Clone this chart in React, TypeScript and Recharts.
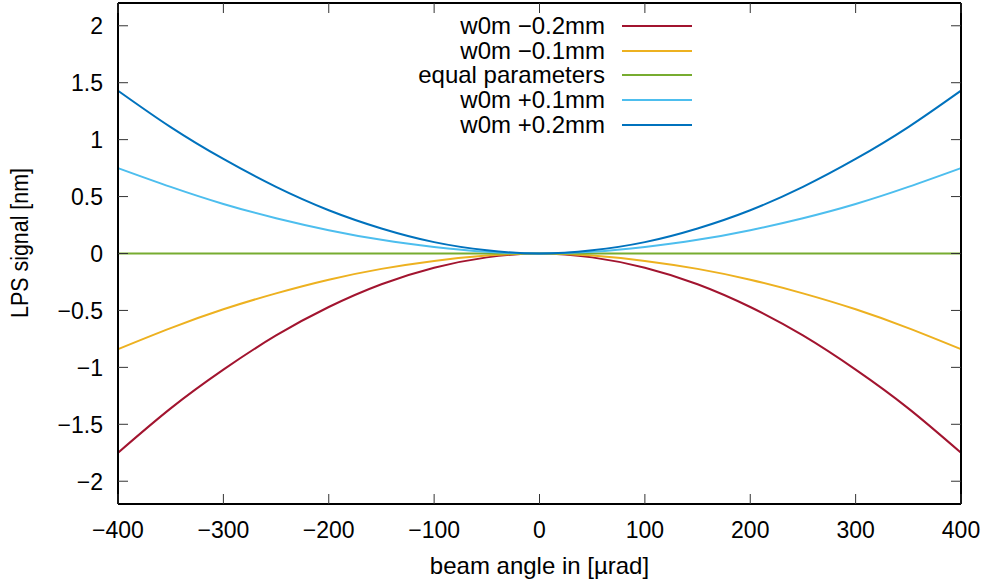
import {
  LineChart,
  Line,
  XAxis,
  YAxis,
  Legend,
  ReferenceLine,
} from "recharts";

// beam angle in µrad
const angles = [
  -400, -350, -300, -250, -200, -150, -100, -50, 0, 50, 100, 150, 200, 250,
  300, 350, 400,
];

// LPS signal in nm
const w0mMinus02 = [
  -1.75, -1.36, -1.02, -0.72, -0.47, -0.27, -0.125, -0.034, 0, -0.034, -0.125,
  -0.27, -0.47, -0.72, -1.02, -1.36, -1.75,
];
const w0mMinus01 = [
  -0.84, -0.655, -0.49, -0.35, -0.23, -0.135, -0.065, -0.018, 0, -0.018,
  -0.065, -0.135, -0.23, -0.35, -0.49, -0.655, -0.84,
];
const equalParams = [0, 0, 0, 0, 0, 0, 0, 0, 0, 0, 0, 0, 0, 0, 0, 0, 0];
const w0mPlus01 = [
  0.75, 0.585, 0.435, 0.31, 0.205, 0.12, 0.058, 0.016, 0, 0.016, 0.058, 0.12,
  0.205, 0.31, 0.435, 0.585, 0.75,
];
const w0mPlus02 = [
  1.43, 1.11, 0.83, 0.585, 0.38, 0.22, 0.1, 0.028, 0, 0.028, 0.1, 0.22, 0.38,
  0.585, 0.83, 1.11, 1.43,
];

const seriesNames = [
  "w0m −0.2mm",
  "w0m −0.1mm",
  "equal parameters",
  "w0m +0.1mm",
  "w0m +0.2mm",
];
const seriesColors = ["#A2142F", "#EDB120", "#77AC30", "#4DBEEE", "#0072BD"];
const seriesKeys = ["m02", "m01", "eq", "p01", "p02"];

const xTicks = [-400, -300, -200, -100, 0, 100, 200, 300, 400];
const yTicks = [-2, -1.5, -1, -0.5, 0, 0.5, 1, 1.5, 2];

const data = angles.map((a, i) => ({
  angle: a,
  m02: w0mMinus02[i],
  m01: w0mMinus01[i],
  eq: equalParams[i],
  p01: w0mPlus01[i],
  p02: w0mPlus02[i],
}));

const FONT = '"Liberation Sans", Arial, Helvetica, sans-serif';
const PLOT = { left: 118, right: 961, top: 3, bottom: 504 };
const TICK_LEN = 10;

const fmt = (v: number) => (v < 0 ? "\u2212" + Math.abs(v) : String(v));

function XTick(props: any) {
  const { x, payload } = props;
  return (
    <g>
      <line x1={x} x2={x} y1={PLOT.bottom} y2={PLOT.bottom - TICK_LEN} stroke="#333" />
      <line x1={x} x2={x} y1={PLOT.top} y2={PLOT.top + TICK_LEN} stroke="#333" />
      <text x={x} y={538} textAnchor="middle" fontSize={23} fontFamily={FONT} fill="#000">
        {fmt(payload.value)}
      </text>
    </g>
  );
}

function YTick(props: any) {
  const { y, payload } = props;
  return (
    <g>
      <line x1={PLOT.left} x2={PLOT.left + TICK_LEN} y1={y} y2={y} stroke="#333" />
      <line x1={PLOT.right} x2={PLOT.right - TICK_LEN} y1={y} y2={y} stroke="#333" />
      <text x={103} y={y} dy="0.36em" textAnchor="end" fontSize={23} fontFamily={FONT} fill="#000">
        {fmt(payload.value)}
      </text>
    </g>
  );
}

function renderLegend(props: any) {
  const items = [...(props.payload || [])].sort(
    (a: any, b: any) => seriesNames.indexOf(a.value) - seriesNames.indexOf(b.value)
  );
  return (
    <div style={{ position: "absolute", left: 0, top: 14, fontFamily: FONT, fontSize: 24 }}>
      {items.map((it: any) => (
        <div key={it.value} style={{ display: "flex", alignItems: "center", height: 24.6 }}>
          <span style={{ width: 605, textAlign: "right", lineHeight: "24px" }}>{it.value}</span>
          <span style={{ width: 17 }} />
          <span style={{ width: 70, height: 2, background: it.color }} />
        </div>
      ))}
    </div>
  );
}

export default function App() {
  return (
    <div style={{ position: "absolute", left: 0, top: 0, background: "#fff" }}>
      <LineChart
        width={987}
        height={585}
        data={data}
        margin={{ top: PLOT.top, right: 987 - PLOT.right, bottom: 0, left: 0 }}
      >
        <XAxis
          dataKey="angle"
          type="number"
          domain={[-400, 400]}
          ticks={xTicks}
          height={585 - PLOT.bottom}
          axisLine={false}
          tickLine={false}
          tick={XTick}
          label={(p: any) => (
            <text
              x={p.viewBox.x + p.viewBox.width / 2}
              y={574}
              textAnchor="middle"
              fontSize={24}
              fontFamily={FONT}
              fill="#000"
            >
              beam angle in [µrad]
            </text>
          )}
        />
        <YAxis
          type="number"
          domain={[-2.2, 2.2]}
          ticks={yTicks}
          width={PLOT.left}
          axisLine={false}
          tickLine={false}
          tick={YTick}
          label={() => {
            const cy = 243;
            return (
              <text
                x={28}
                y={cy}
                transform={`rotate(-90, 28, ${cy})`}
                textAnchor="middle"
                fontSize={23}
                textLength={150}
                lengthAdjust="spacingAndGlyphs"
                fontFamily={FONT}
                fill="#000"
              >
                LPS signal [nm]
              </text>
            );
          }}
        />
        <Legend
          layout="vertical"
          align="center"
          verticalAlign="middle"
          content={renderLegend}
          wrapperStyle={{ left: 0, top: 0, width: 987, height: 0 }}
        />
        {seriesKeys.map((k, i) => (
          <Line
            key={k}
            type="natural"
            dataKey={k}
            name={seriesNames[i]}
            stroke={seriesColors[i]}
            strokeWidth={2}
            dot={false}
            isAnimationActive={false}
          />
        ))}
        <ReferenceLine y={2.2} stroke="#000" strokeWidth={2} />
        <ReferenceLine y={-2.2} stroke="#000" strokeWidth={2} />
        <ReferenceLine x={-400} stroke="#000" strokeWidth={2} />
        <ReferenceLine x={400} stroke="#000" strokeWidth={2} />
      </LineChart>
    </div>
  );
}
